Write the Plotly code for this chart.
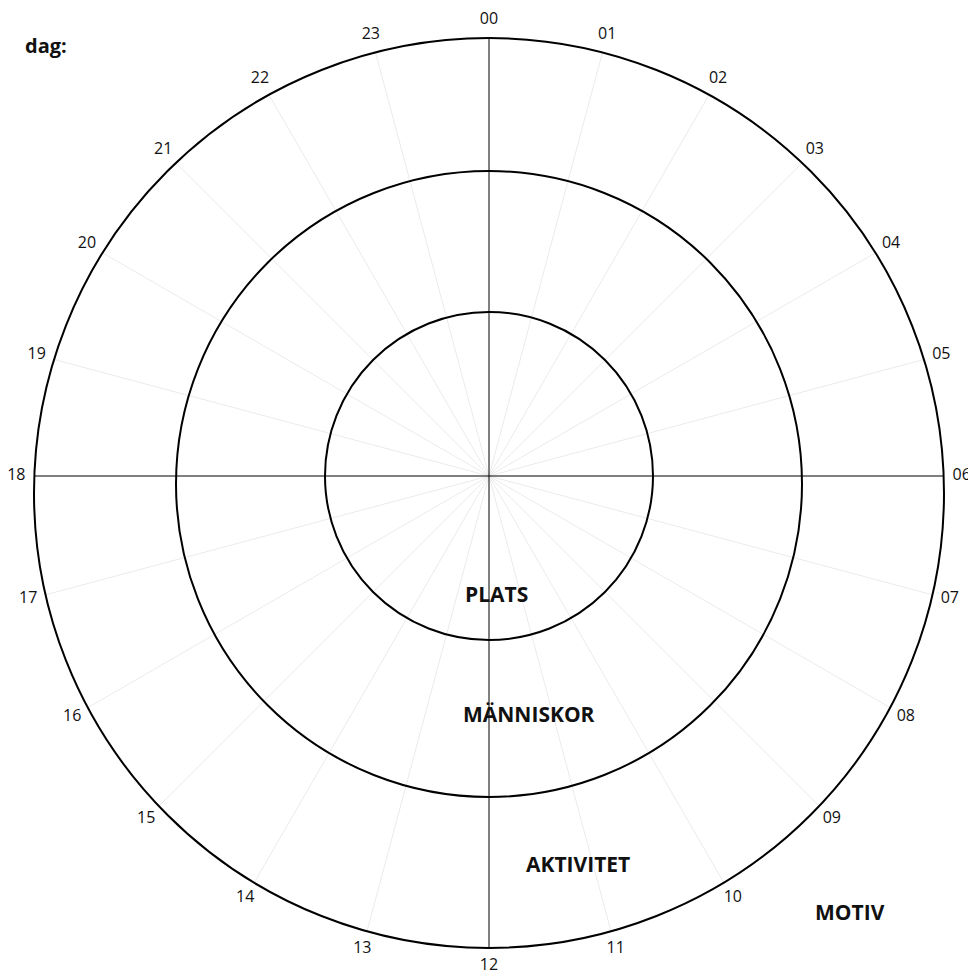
import math
import plotly.graph_objects as go

# ---- data ----
hours = [f"{h:02d}" for h in range(24)]
hour_angles = [h * 15 for h in range(24)]          # degrees, clockwise from top
major_hours = ["00", "06", "12", "18"]

spoke_center = (481, 468)                           # where the hour spokes meet
ring_centers_y = [468, 476, 485]                    # inner, middle, outer ring centres
ring_radii = [164, 313, 455]
ring_center_x = 481

label_names = ["PLATS", "MÄNNISKOR", "AKTIVITET", "MOTIV"]
label_x = [488, 521, 570, 842]
label_y = [586, 706, 856, 904]
title_text = "dag:"
title_pos = (15, 37)

W, H = 976, 973
LABEL_GAP = 18

fig = go.Figure()

# rings
for cy, r in zip(ring_centers_y, ring_radii):
    fig.add_shape(type="circle", xref="x", yref="y",
                  x0=ring_center_x - r, x1=ring_center_x + r, y0=cy - r, y1=cy + r,
                  line=dict(color="black", width=2), layer="above")

# spoke lengths: intersection of each hour direction with the outer ring
ocx, ocy, orad = ring_center_x, ring_centers_y[-1], ring_radii[-1]
sx, sy = spoke_center
minor_x, minor_y, major_x, major_y = [], [], [], []
lab_x, lab_y = [], []
for h, a in zip(hours, hour_angles):
    dx, dy = math.sin(math.radians(a)), -math.cos(math.radians(a))
    px, py = sx - ocx, sy - ocy
    b = px * dx + py * dy
    c = px * px + py * py - orad * orad
    t = -b + math.sqrt(b * b - c)
    ex, ey = sx + dx * t, sy + dy * t
    if h in major_hours:
        major_x += [sx, ex, None]
        major_y += [sy, ey, None]
    else:
        minor_x += [sx, ex, None]
        minor_y += [sy, ey, None]
    lab_x.append(sx + dx * (t + LABEL_GAP))
    lab_y.append(sy + dy * (t + LABEL_GAP))

fig.add_trace(go.Scatter(x=minor_x, y=minor_y, mode="lines",
                         line=dict(color="#ebebeb", width=1), hoverinfo="skip", showlegend=False))
fig.add_trace(go.Scatter(x=major_x, y=major_y, mode="lines",
                         line=dict(color="black", width=1), hoverinfo="skip", showlegend=False))
fig.add_trace(go.Scatter(x=lab_x, y=lab_y, mode="text", text=hours,
                         textposition="middle center", cliponaxis=False,
                         textfont=dict(family="Open Sans", size=16, color="#111"),
                         hoverinfo="skip", showlegend=False))

annotations = [dict(text=f"<b>{title_text}</b>", x=title_pos[0], y=title_pos[1],
                    xref="x", yref="y", xanchor="left", yanchor="middle", showarrow=False,
                    font=dict(size=20, family="Open Sans", color="#111"))]
for lab, x, y in zip(label_names, label_x, label_y):
    annotations.append(dict(text=f"<b>{lab}</b>", x=x, y=y, xref="x", yref="y",
                            xanchor="center", yanchor="middle", showarrow=False,
                            font=dict(size=21, family="Open Sans", color="#111")))

fig.update_layout(
    width=W, height=H,
    margin=dict(l=0, r=0, t=0, b=0),
    paper_bgcolor="white", plot_bgcolor="white",
    xaxis=dict(range=[0, W], visible=False, fixedrange=True),
    yaxis=dict(range=[H, 0], visible=False, fixedrange=True),
    annotations=annotations,
)

fig.write_html("out.html")
